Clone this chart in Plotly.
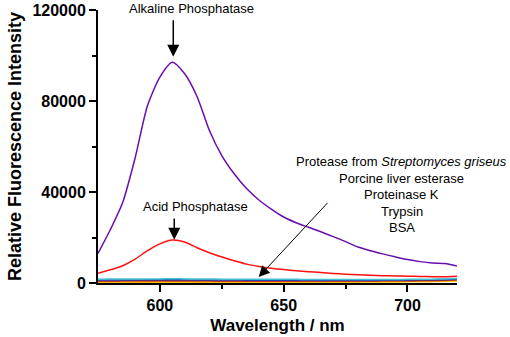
import plotly.graph_objects as go

wavelength = [575, 580, 585, 590, 595, 600, 605, 610, 615, 620, 625, 630, 635, 640, 645,
              650, 655, 660, 665, 670, 675, 680, 685, 690, 695, 700, 705, 710, 715, 720]

alkaline = [13000, 23500, 35500, 55000, 78000, 90500, 97000, 92000, 82000, 67000, 56000, 48000,
            41500, 36500, 32500, 29000, 26500, 24500, 22500, 20400, 18200, 15800, 14200, 12800,
            11500, 10300, 9400, 8800, 8600, 7500]
acid = [4300, 5800, 7600, 10500, 14200, 17200, 18900, 18000, 15500, 13300, 11400, 9800, 8300,
        7300, 6500, 5900, 5400, 5000, 4600, 4200, 3900, 3600, 3400, 3200, 3100, 3000, 2900,
        2800, 2800, 3000]
protease = [1700, 1750, 1750, 1800, 1800, 1800, 1850, 1800, 1800, 1750, 1700, 1700, 1650, 1650,
            1600, 1600, 1600, 1550, 1550, 1550, 1550, 1500, 1500, 1550, 1550, 1600, 1650, 1700,
            1800, 2000]
esterase = [1300, 1300, 1350, 1350, 1400, 1400, 1400, 1400, 1350, 1350, 1300, 1300, 1250, 1250,
            1250, 1200, 1200, 1200, 1150, 1200, 1200, 1200, 1250, 1250, 1300, 1350, 1400, 1450,
            1550, 1800]
proteinase_k = [900, 900, 950, 950, 1000, 1000, 1000, 1000, 950, 950, 900, 900, 900, 850, 850,
                850, 850, 850, 850, 850, 900, 900, 900, 950, 950, 1000, 1050, 1100, 1200, 1400]
trypsin = [550, 550, 600, 600, 600, 650, 650, 650, 600, 600, 600, 600, 550, 550, 550, 550, 550,
           550, 550, 600, 600, 600, 650, 650, 700, 750, 800, 850, 950, 1100]
bsa = [300, 300, 300, 350, 350, 350, 350, 350, 350, 350, 300, 300, 300, 300, 300, 300, 300, 300,
       350, 350, 350, 400, 400, 450, 450, 500, 550, 600, 700, 850]

x_ticks = [600, 650, 700]
y_ticks = [0, 40000, 80000, 120000]

FONT = "Liberation Sans, Arial, sans-serif"

fig = go.Figure()
series = [
    ("BSA", bsa, "#ffd700"),
    ("Trypsin", trypsin, "#ff9900"),
    ("Proteinase K", proteinase_k, "#a0202a"),
    ("Porcine liver esterase", esterase, "#2040c0"),
    ("Protease from Streptomyces griseus", protease, "#40c0d0"),
    ("Acid Phosphatase", acid, "#ff1010"),
    ("Alkaline Phosphatase", alkaline, "#6a0dad"),
]
for name, vals, col in series:
    fig.add_trace(go.Scatter(x=wavelength, y=vals, mode="lines", name=name,
                             line=dict(color=col, width=1.5, shape="spline", smoothing=0.7)))

ann_font = dict(family=FONT, size=13, color="black")
annotations = [
    dict(x=612.6, y=1.007, text="Alkaline Phosphatase", showarrow=False, font=ann_font,
         xref="x", yref="paper", yanchor="middle"),
    dict(x=605.4, y=99500, ax=605.4, ay=116200, axref="x", ayref="y", xref="x", yref="y",
         text="", showarrow=True, arrowhead=2, arrowsize=1.6, arrowwidth=1.5, arrowcolor="black"),
    dict(x=614.2, y=33700, text="Acid Phosphatase", showarrow=False, font=ann_font,
         xref="x", yref="y"),
    dict(x=605.8, y=19000, ax=605.8, ay=29000, axref="x", ayref="y", xref="x", yref="y",
         text="", showarrow=True, arrowhead=2, arrowsize=1.6, arrowwidth=1.5, arrowcolor="black"),
    dict(x=639.9, y=2640, ax=668.3, ay=35900, axref="x", ayref="y", xref="x", yref="y",
         text="", showarrow=True, arrowhead=2, arrowsize=2.2, arrowwidth=1, arrowcolor="black"),
]
labels = ["Protease from <i>Streptomyces griseus</i>", "Porcine liver esterase",
          "Proteinase K", "Trypsin", "BSA"]
label_y = [53400, 46150, 39100, 31500, 24200]
for t, yy in zip(labels, label_y):
    annotations.append(dict(x=697.7, y=yy, text=t, showarrow=False, font=ann_font,
                            xref="x", yref="y"))

axis_common = dict(showline=True, linecolor="black", linewidth=2, ticks="outside",
                   tickwidth=2, tickcolor="black", ticklen=7, showgrid=False, zeroline=False,
                   tickfont=dict(family=FONT, size=16, color="black", weight="bold"),
                   mirror=False, automargin=False)

fig.update_layout(
    width=510, height=337,
    margin=dict(l=98, r=53, t=10, b=54),
    paper_bgcolor="white", plot_bgcolor="white",
    showlegend=False,
    annotations=annotations,
    xaxis=dict(range=[575, 720], tickvals=x_ticks, ticktext=[str(v) for v in x_ticks],
               minor=dict(tickvals=[625, 675], ticklen=4, tickwidth=2, tickcolor="black",
                          ticks="outside"),
               title=dict(text="Wavelength / nm", font=dict(family=FONT, size=17, color="black",
                                                             weight="bold"), standoff=6),
               **axis_common),
    yaxis=dict(range=[0, 120000], tickvals=y_ticks, ticktext=[str(v) for v in y_ticks],
               minor=dict(tickvals=[20000, 60000, 100000], ticklen=4, tickwidth=2,
                          tickcolor="black", ticks="outside"),
               title=dict(text="Relative Fluorescence Intensity",
                          font=dict(family=FONT, size=18, color="black", weight="bold"),
                          standoff=6),
               **axis_common),
)

fig.write_html("out.html", config={"displayModeBar": False},
               post_script="document.body.style.margin='0';document.body.style.overflow='hidden';")
